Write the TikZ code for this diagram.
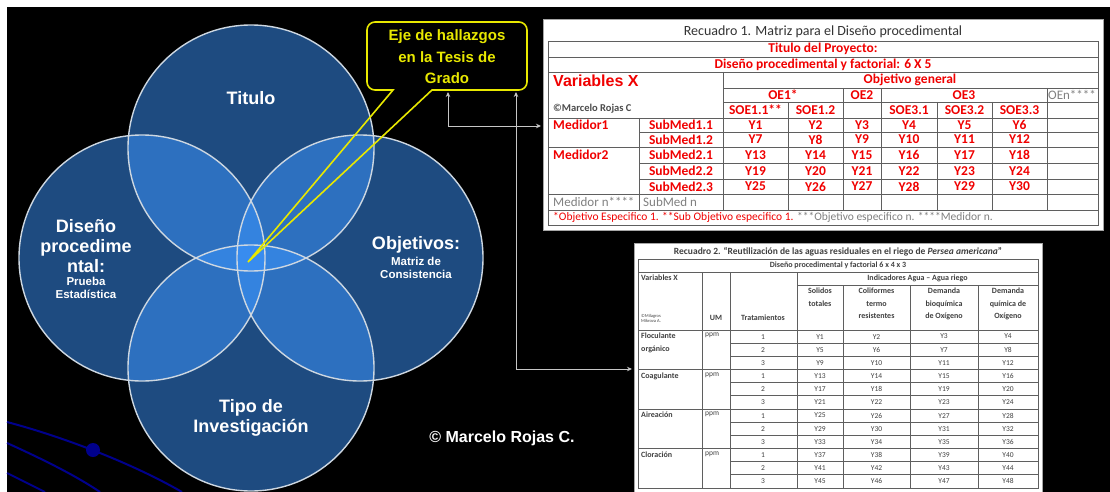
\documentclass[tikz,border=0pt]{standalone}
\usepackage{fontspec}
\setmainfont{Liberation Sans}
\newfontfamily\cali{Carlito}
\usetikzlibrary{arrows.meta,positioning}

\definecolor{azulvenn}{RGB}{60,150,255}
\definecolor{bordevenn}{RGB}{205,215,225}
\definecolor{amarillo}{RGB}{232,232,0}
\definecolor{rojotab}{RGB}{240,0,0}
\definecolor{grisrej}{RGB}{95,95,95}
\definecolor{marino}{RGB}{0,0,140}

\tikzset{
  venn/.style={circle, minimum size=246pt, inner sep=0pt, fill=azulvenn, fill opacity=0.5},
  vennline/.style={draw=bordevenn, line width=1.4pt},
  lbl/.style={text=white, font=\bfseries\fontsize{18}{20}\selectfont, align=center, inner sep=0pt},
  sublbl/.style={text=white, font=\bfseries\fontsize{11.5}{13}\selectfont, align=center, inner sep=0pt},
  conn/.style={draw=gray!45, line width=0.9pt, {Stealth[length=5pt,width=4.5pt]}-{Stealth[length=5pt,width=4.5pt]}},
  rej/.style={draw=grisrej, line width=0.7pt},
  rojo/.style={text=rojotab, font=\cali\bfseries\fontsize{13.5}{15}\selectfont, inner sep=0pt},
  gris/.style={text=gray, font=\cali\fontsize{13}{15}\selectfont, inner sep=0pt},
  cel/.style={text=black!75, font=\cali\fontsize{7.5}{8.5}\selectfont, inner sep=0pt, align=center},
  celb/.style={cel, font=\cali\bfseries\fontsize{8}{12.5}\selectfont},
}

\begin{document}
\begin{tikzpicture}[x=1pt,y=-1pt]
  \useasboundingbox (0,0) rectangle (1110,492);
  \fill[white] (0,0) rectangle (1110,492);
  \fill[black] (7,7) rectangle (1110,492);

  % Arcos decorativos (esquina inferior izquierda)
  \draw[marino, line width=2pt] (7,422) .. controls (60,436) and (130,462) .. (182,492);
  \draw[marino, line width=2pt] (7,443) .. controls (40,458) and (75,475) .. (100,492);
  \draw[marino, line width=2pt] (7,473) -- (45,492);
  \fill[marino] (93,450) circle (7pt);

  % Circulos del diagrama de Venn
  \node[venn] (tit) at (251,148) {};
  \node[venn] (dis) at (142,258) {};
  \node[venn] (obj) at (360,258) {};
  \node[venn] (tip) at (251,368) {};
  \foreach \c in {tit,dis,obj,tip}
    \draw[vennline] (\c.center) circle (123pt);

  % Textos de los circulos
  \node[lbl] (titT) at (251,98) {Titulo};
  \node[lbl] (disT) at (86,246) {Diseño\\procedime\\ntal:};
  \node[sublbl] (disS) at (86,288) {Prueba\\Estadística};
  \node[lbl] (objT) at (416,245) {Objetivos:};
  \node[sublbl] (objS) at (416,268) {Matriz de\\Consistencia};
  \node[lbl] (tipT) at (251,418) {Tipo de\\Investigación};

  % Globo amarillo
  \node[text=amarillo, font=\bfseries\fontsize{15}{21.5}\selectfont, align=center, inner sep=0pt] (eje) at (447,57) {Eje de hallazgos\\en la Tesis de\\Grado};
  \coordinate (punta) at (248,262);
  \draw[amarillo, line width=1.6pt] (393,90) -- (punta) -- (432,90)
    {[rounded corners=8pt] -- (527,90) -- (527,22) -- (367,22) -- (367,90)} -- cycle;

  % Conectores hacia los recuadros
  \coordinate (eje1) at (448,92);
  \coordinate (eje2) at (516,92);
  \coordinate (recA) at (541,126);
  \coordinate (recB) at (632,369);
  \draw[conn] (eje1) |- (recA);
  \draw[conn] (eje2) |- (recB);

  % Recuadro 1
  \node[draw=gray!70, fill=white, minimum width=560pt, minimum height=211pt, anchor=north west, inner sep=0pt] (recuadroA) at (543,19) {};
  \node[font=\cali\fontsize{14}{16}\selectfont, text=black!80, inner sep=0pt] (tituloA) at (823,32) {Recuadro 1. Matriz para el Diseño procedimental};
  \draw[rej] (548,41) rectangle (1098,225);
  \foreach \y in {57,72,118,147,194,210} \draw[rej] (548,\y) -- (1098,\y);
  \foreach \y in {88,102} \draw[rej] (723,\y) -- (1098,\y);
  \foreach \y in {132,163,179} \draw[rej] (639,\y) -- (1098,\y);
  \draw[rej] (723,72) -- (723,210);
  \draw[rej] (639,118) -- (639,210);
  \foreach \x in {788,937,992} \draw[rej] (\x,102) -- (\x,210);
  \foreach \x in {843,881,1047} \draw[rej] (\x,88) -- (\x,210);

  \node[rojo] (proy) at (823,49) {Titulo del Proyecto:};
  \node[rojo] (dise) at (823,64.5) {Diseño procedimental y factorial: 6 X 5};
  \node[rojo, font=\bfseries\fontsize{16}{18}\selectfont, anchor=west] (varX) at (553,81) {Variables X};
  \node[font=\cali\bfseries\fontsize{10.5}{12}\selectfont, text=black!70, anchor=west, inner sep=0pt] (autorA) at (553,109) {©Marcelo Rojas C};
  \node[rojo] (ogen) at (910,80) {Objetivo general};
  \node[rojo] (oe1) at (783,95) {OE1*};
  \node[rojo] (oe2) at (862,95) {OE2};
  \node[rojo] (oe3) at (964,95) {OE3};
  \node[gris] (oen) at (1072,95) {OEn****};
  \foreach \txt/\x [count=\k] in {SOE1.1**/755.5, SOE1.2/815.5, SOE3.1/909, SOE3.2/964.5, SOE3.3/1019.5}
    \node[rojo] (soe\k) at (\x,110) {\txt};
  \node[rojo, anchor=west] (med1) at (553,125) {Medidor1};
  \node[rojo, anchor=west] (med2) at (553,155) {Medidor2};
  \foreach \txt/\y [count=\k] in {SubMed1.1/125, SubMed1.2/139.5, SubMed2.1/155, SubMed2.2/171, SubMed2.3/186.5}
    \node[rojo] (sub\k) at (681,\y) {\txt};
  \foreach \x [count=\i] in {755.5,815.5,862,909,964.5,1019.5}
    \foreach \y [count=\j] in {125,139.5,155,171,186.5}{
      \pgfmathtruncatemacro{\nY}{(\j-1)*6+\i}
      \node[rojo] (ya\i-\j) at (\x,\y) {Y\nY};
    }
  \node[gris, anchor=west] (medn) at (553,202) {Medidor n****};
  \node[gris, anchor=west] (subn) at (643,202) {SubMed n};
  \node[anchor=west, inner sep=0pt, font=\cali\fontsize{11.5}{13}\selectfont] (nota) at (553,217.5)
    {\textcolor{rojotab}{*Objetivo Especifico 1. **Sub Objetivo especifico 1.} \textcolor{gray}{***Objetivo especifico n. ****Medidor n.}};

  % Recuadro 2
  \node[draw=gray!70, fill=white, minimum width=408pt, minimum height=252pt, anchor=north west, inner sep=0pt] (recuadroB) at (634,243) {};
  \node[celb, font=\cali\bfseries\fontsize{9.5}{11}\selectfont] (tituloB) at (838,252)
    {Recuadro 2. “Reutilización de las aguas residuales en el riego de \textit{Persea americana}”};
  \draw[rej] (638,259) rectangle (1038,488);
  \draw[rej] (638,272) -- (1038,272);
  \draw[rej] (797,285) -- (1038,285);
  \foreach \k in {0,...,11}{
    \pgfmathsetmacro{\y}{330+\k*13.1667}
    \pgfmathtruncatemacro{\g}{mod(\k,3)}
    \ifnum\g=0 \draw[rej] (638,\y) -- (1038,\y); \else \draw[rej] (730,\y) -- (1038,\y); \fi
  }
  \foreach \x in {702,730,797} \draw[rej] (\x,272) -- (\x,488);
  \foreach \x in {843,910,978} \draw[rej] (\x,285) -- (\x,488);

  \node[celb] (disB) at (838,265.5) {Diseño procedimental y factorial 6 x 4 x 3};
  \node[celb, anchor=north west] (varB) at (641,275) {Variables X};
  \node[cel, font=\cali\fontsize{4.5}{5}\selectfont, anchor=west, align=left] (autorB) at (641,318) {©Milagros\\Mikrova A.};
  \node[celb] (um) at (716,318) {UM};
  \node[celb] (trat) at (763,318) {Tratamientos};
  \node[celb] (indic) at (917.5,278.5) {Indicadores Agua – Agua riego};
  \node[celb, anchor=north] (sol) at (820,288) {Solidos\\totales};
  \node[celb, anchor=north] (coli) at (876.5,288) {Coliformes\\termo\\resistentes};
  \node[celb, anchor=north] (dbo) at (944,288) {Demanda\\bioquímica\\de Oxígeno};
  \node[celb, anchor=north] (dqo) at (1008,288) {Demanda\\química de\\Oxígeno};

  \node[celb, anchor=north west, align=left] (g1) at (641,333) {Floculante\\orgánico};
  \node[celb, anchor=north west] (g2) at (641,372.5) {Coagulante};
  \node[celb, anchor=north west] (g3) at (641,412) {Aireación};
  \node[celb, anchor=north west] (g4) at (641,451.5) {Cloración};
  \foreach \y [count=\g] in {330,369.5,409,448.5}
    \node[cel, anchor=north west] (ppm\g) at (705,\y+3) {ppm};
  \foreach \k in {1,...,12}{
    \pgfmathsetmacro{\y}{330+(\k-0.5)*13.1667}
    \pgfmathtruncatemacro{\nT}{mod(\k-1,3)+1}
    \node[cel] (tr\k) at (763,\y) {\nT};
    \foreach \x [count=\i] in {820,876.5,944,1008}{
      \pgfmathtruncatemacro{\nY}{(\k-1)*4+\i}
      \node[cel] (yb\k-\i) at (\x,\y) {Y\nY};
    }
  }

  % Autor
  \node[text=white, font=\bfseries\fontsize{16}{18}\selectfont, inner sep=0pt] (autor) at (502,438) {© Marcelo Rojas C.};
\end{tikzpicture}
\end{document}
